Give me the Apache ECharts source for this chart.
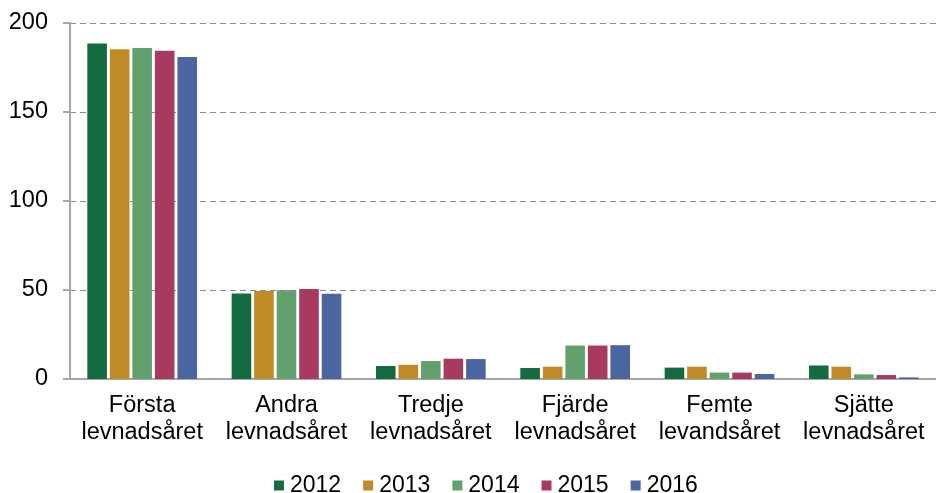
<!DOCTYPE html>
<html>
<head>
<meta charset="utf-8">
<script src="https://cdn.jsdelivr.net/npm/echarts@6/dist/echarts.min.js"></script>
<style>
  html, body { margin: 0; padding: 0; background: #ffffff; }
  #chart { width: 936px; height: 493px; }
</style>
</head>
<body>
<div id="chart"></div>
<script>
// kategorier (x-axel)
const categories = [
  'Första\nlevnadsåret',
  'Andra\nlevnadsåret',
  'Tredje\nlevnadsåret',
  'Fjärde\nlevnadsåret',
  'Femte\nlevandsåret',
  'Sjätte\nlevnadsåret'
];
const years = ['2012', '2013', '2014', '2015', '2016'];

// värden per år
const v2012 = [188.5, 48.1, 7.3, 6.2, 6.4, 7.6];
const v2013 = [185.2, 49.4, 8.0, 6.9, 6.9, 6.9];
const v2014 = [186.0, 49.8, 10.1, 18.8, 3.6, 2.6];
const v2015 = [184.4, 50.6, 11.4, 18.8, 3.6, 2.2];
const v2016 = [180.9, 47.9, 11.2, 19.0, 2.8, 0.9];
const values = [v2012, v2013, v2014, v2015, v2016];

const colors = ['#156b40', '#c08a25', '#62a06e', '#a83a62', '#4a66a0'];

const chart = echarts.init(document.getElementById('chart'));

const option = {
  animation: false,
  textStyle: { fontFamily: 'Liberation Sans, Arial, sans-serif' },
  grid: { left: 70, right: 0, top: 23, bottom: 114, containLabel: false },
  legend: {
    data: years,
    bottom: -9,
    left: 269,
    icon: 'rect',
    itemWidth: 10,
    itemHeight: 10,
    itemGap: 22,
    textStyle: { fontSize: 23, color: '#000', padding: [0, 0, 0, 1] }
  },
  xAxis: {
    type: 'category',
    data: categories,
    axisLine: { lineStyle: { color: '#a6a6a6', width: 2 } },
    axisTick: { show: false },
    axisLabel: { fontSize: 23.5, color: '#000', lineHeight: 27, margin: 13, interval: 0 }
  },
  yAxis: {
    type: 'value',
    min: 0,
    max: 200,
    interval: 50,
    axisLine: { show: true, lineStyle: { color: '#a6a6a6', width: 2 } },
    axisTick: { show: true, inside: false, length: 7, lineStyle: { color: '#a6a6a6', width: 2 } },
    axisLabel: { fontSize: 23.5, color: '#000', margin: 22 },
    splitLine: { lineStyle: { color: '#8c8c8c', type: [6, 4], width: 1.2 } }
  },
  series: years.map((y, i) => ({
    name: y,
    type: 'bar',
    data: values[i],
    barGap: '15%',
    barCategoryGap: '24%',
    itemStyle: { color: colors[i] }
  }))
};

chart.setOption(option);
</script>
</body>
</html>
